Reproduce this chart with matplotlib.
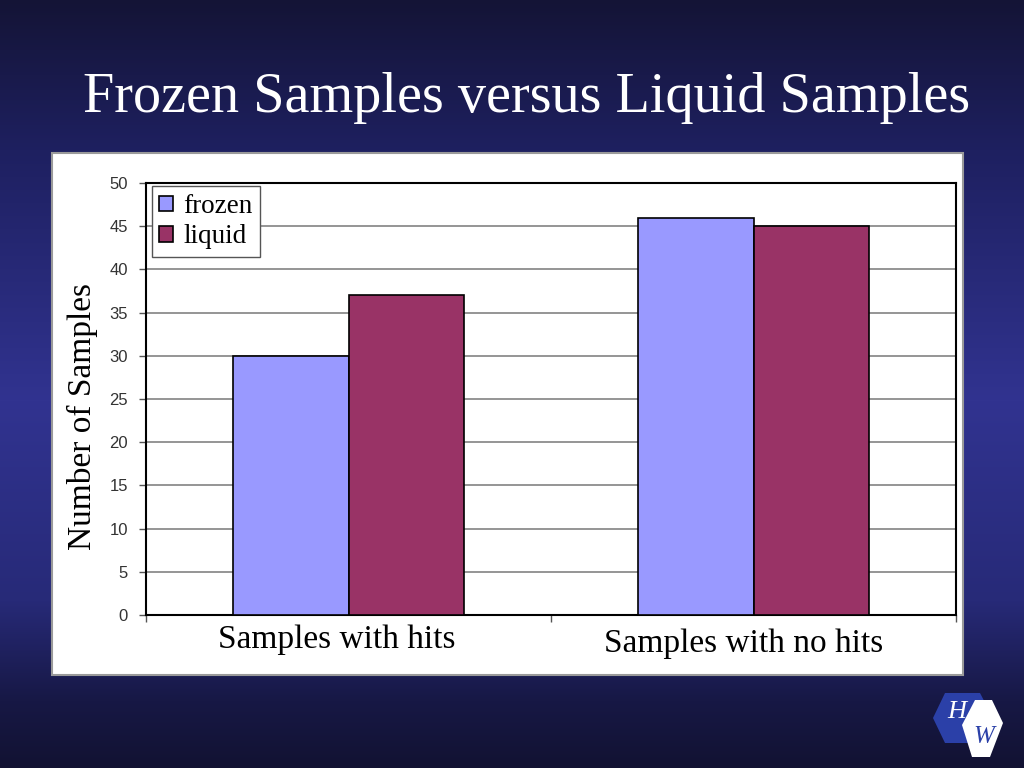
import numpy as np
import matplotlib
matplotlib.use('Agg')
import matplotlib.pyplot as plt
from matplotlib.patches import Rectangle, Polygon

#data
categories=['Samples with hits','Samples with no hits']
series_names=['frozen','liquid']
frozen_values=[30,46]
liquid_values=[37,45]
y_ticks=[0,5,10,15,20,25,30,35,40,45,50]

title_text='Frozen Samples versus Liquid Samples'
ylabel_text='Number of Samples'

colors=['#9999FF','#993366']

fig=plt.figure(figsize=(10.24,7.68),dpi=100)

#background in pixel coordinates
ax_bg=fig.add_axes([0,0,1,1])
ax_bg.set_xlim(0,1024)
ax_bg.set_ylim(768,0)
ax_bg.axis('off')

stops_y=[0,150,400,600,700,768]
stops_c=np.array([[0x14,0x14,0x36],
                  [0x1e,0x20,0x60],
                  [0x31,0x33,0x90],
                  [0x27,0x2a,0x78],
                  [0x17,0x18,0x45],
                  [0x12,0x12,0x32]])/255.0
yy=np.arange(768)
grad=np.stack([np.interp(yy,stops_y,stops_c[:,k]) for k in range(3)],axis=1)
grad=np.repeat(grad[:,None,:],4,axis=1)
ax_bg.imshow(grad,extent=[0,1024,768,0],aspect='auto',zorder=0)

#white chart panel
ax_bg.add_patch(Rectangle((52,153),911,522,facecolor='white',edgecolor='#9a9a9a',linewidth=1.5,zorder=1))

#logo
ax_bg.add_patch(Polygon([(933,718),(945,693),(980,693),(993,718),(980,743),(945,743)],
                        closed=True,facecolor='#2b40a8',edgecolor='none',zorder=2))
ax_bg.add_patch(Polygon([(962,725),(975,700),(992,700),(1003,723),(990,757),(972,757)],
                        closed=True,facecolor='white',edgecolor='none',zorder=3))
ax_bg.text(957,712,'H',color='white',fontsize=19,family='Liberation Serif',style='italic',
           ha='center',va='center',zorder=4)
ax_bg.text(984,737,'W',color='#2b40a8',fontsize=18,family='Liberation Serif',style='italic',
           ha='center',va='center',zorder=4)

#title
fig.text(527/1024,1-112/768,title_text,color='white',fontsize=40.5,
         family='Liberation Serif',ha='center',va='baseline')

#y label
fig.text(82/1024,1-416/768,ylabel_text,color='black',fontsize=24,rotation=90,
         family='Liberation Serif',ha='center',va='center')

'''bar chart'''
ax=fig.add_axes([146/1024,1-615/768,810/1024,432/768])
ax.set_facecolor('white')

x=np.arange(len(categories))
width=0.286

ax.bar(x-width/2,frozen_values,width,color=colors[0],edgecolor='black',linewidth=1.2,
       label=series_names[0],zorder=3)
ax.bar(x+width/2,liquid_values,width,color=colors[1],edgecolor='black',linewidth=1.2,
       label=series_names[1],zorder=3)

ax.set_xlim(-0.5,1.5)
ax.set_ylim(0,50)
ax.set_yticks(y_ticks)
ax.yaxis.grid(True,color='#8c8c8c',linewidth=1.3,zorder=0)
ax.set_axisbelow(True)

for spine in ax.spines.values():
    spine.set_linewidth(1.5)
    spine.set_color('black')

ax.tick_params(axis='y',direction='out',length=5,width=1,color='#555555',
               labelsize=12,labelcolor='#333333',pad=8)
for lab in ax.get_yticklabels():
    lab.set_family('Liberation Sans')

#category labels
ax.set_xticks([-0.5,0.5,1.5])
ax.set_xticklabels([])
ax.tick_params(axis='x',direction='out',length=5,width=1,color='#555555')
label_offsets=[(-0.03,-0.022),(-0.025,-0.032)]
for k in range(len(categories)):
    ax.text(x[k]+label_offsets[k][0],label_offsets[k][1],categories[k],
            transform=ax.get_xaxis_transform(),family='Liberation Serif',
            fontsize=24,color='black',ha='center',va='top')

leg=ax.legend(loc='upper left',bbox_to_anchor=(0.007,0.992),borderaxespad=0,
              prop={'family':'Liberation Serif','size':19.5},
              handlelength=0.5,handleheight=0.5,handletextpad=0.4,
              borderpad=0.28,labelspacing=0.2,fancybox=False,framealpha=1,
              edgecolor='#555555')
leg.get_frame().set_linewidth(1.0)

plt.savefig('out.png',dpi=100)
